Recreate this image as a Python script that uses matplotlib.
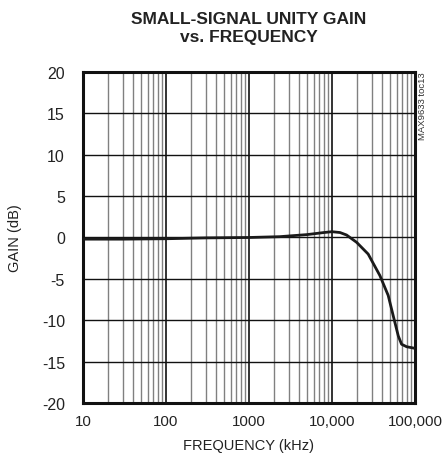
import matplotlib
matplotlib.use("Agg")
import matplotlib.pyplot as plt
from matplotlib.ticker import FixedLocator, NullFormatter

freq_khz = [10, 30, 100, 300, 1000, 2350, 5000, 8000, 10000, 12500, 15000, 19800, 27300,
            37800, 47600, 54700, 63000, 69000, 79400, 95000, 100000]
gain_db = [-0.2, -0.2, -0.15, -0.05, 0.0, 0.1, 0.35, 0.6, 0.7, 0.6, 0.3, -0.58, -2.0,
           -4.6, -7.0, -9.45, -11.9, -12.9, -13.2, -13.35, -13.4]
x_ticks = [10, 100, 1000, 10000, 100000]
x_tick_labels = ["10", "100", "1000", "10,000", "100,000"]
y_ticks = [-20, -15, -10, -5, 0, 5, 10, 15, 20]

plt.rcParams["axes.unicode_minus"] = False
fam = ["Liberation Sans", "DejaVu Sans"]
fig = plt.figure(figsize=(4.42, 4.64), dpi=100)
ax = fig.add_axes([0.1878, 0.1293, 0.751, 0.7134])
ax.set_xscale("log")
ax.set_xlim(10, 100000)
ax.set_ylim(-20, 20)

minor = [m * 10**e for e in range(1, 5) for m in range(2, 10)]
for f in minor:
    ax.axvline(f, color="#808080", lw=1.0, zorder=1)
for f in x_ticks[1:-1]:
    ax.axvline(f, color="#111111", lw=1.2, zorder=1)
for y in y_ticks[1:-1]:
    ax.axhline(y, color="#111111", lw=1.0, zorder=1)

ax.plot(freq_khz, gain_db, color="#1a1a1a", lw=2.0, zorder=3)

ax.xaxis.set_major_locator(FixedLocator(x_ticks))
ax.set_xticklabels(x_tick_labels)
ax.xaxis.set_minor_formatter(NullFormatter())
ax.xaxis.set_minor_locator(FixedLocator([]))
ax.set_yticks(y_ticks)
ax.tick_params(axis="x", length=0, pad=8, labelsize=10.8, colors="#222222")
ax.tick_params(axis="y", length=0, pad=13, labelsize=11.5, colors="#222222")
for lab in ax.get_xticklabels() + ax.get_yticklabels():
    lab.set_family(fam)
for s in ax.spines.values():
    s.set_linewidth(2.2)
    s.set_color("#111111")

ax.set_xlabel("FREQUENCY (kHz)", family=fam, fontsize=10.5, color="#222222", labelpad=7)
ax.set_ylabel("GAIN (dB)", family=fam, fontsize=10.5, color="#222222", labelpad=14)
fig.text(0.5635, 0.938, "SMALL-SIGNAL UNITY GAIN\nvs. FREQUENCY", ha="center", va="center",
         family=fam, fontweight="bold", fontsize=12.5, color="#222222", linespacing=1.25)
fig.text(0.957, 0.843, "MAX9633 toc13", rotation=90, ha="center", va="top",
         family=fam, fontsize=6.8, color="#333333")
fig.savefig("out.png", dpi=100)
